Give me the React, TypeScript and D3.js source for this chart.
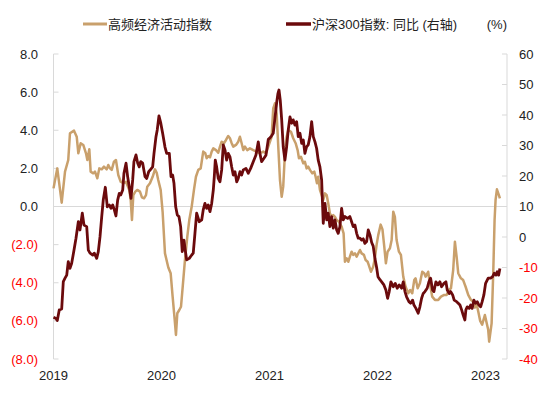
import React from "react";
import * as d3 from "d3";

// months since Jan 2019
const tanMonths = [0,0.42,0.91,1.28,1.64,1.83,2.28,2.58,2.76,3.02,3.31,3.61,3.76,3.98,4.13,4.42,4.61,4.87,5.09,5.36,5.61,5.91,6.09,6.28,6.47,6.72,6.94,7.2,7.47,7.76,8.06,8.2,8.42,8.58,8.72,8.87,9.09,9.31,9.61,9.83,10.06,10.28,10.42,10.72,11.02,11.28,11.47,11.64,11.91,12.13,12.39,12.76,13.02,13.24,13.47,13.61,13.76,13.98,14.17,14.36,14.61,14.87,15.09,15.36,15.61,15.83,16.09,16.36,16.47,16.64,16.87,17.02,17.2,17.39,17.58,17.76,18.06,18.31,18.5,18.69,18.94,19.17,19.42,19.61,19.8,19.98,20.28,20.53,20.72,20.91,21.09,21.28,21.53,21.83,22.2,22.58,22.94,23.31,23.61,23.87,24.24,24.42,24.61,24.8,24.98,25.17,25.36,25.53,25.72,25.91,26.09,26.39,26.64,26.91,27.13,27.28,27.5,27.76,27.94,28.13,28.31,28.5,28.76,28.98,29.13,29.28,29.42,29.61,29.8,29.98,30.17,30.36,30.53,30.72,30.91,31.09,31.28,31.47,31.72,32.02,32.24,32.39,32.58,32.76,32.94,33.13,33.31,33.5,33.69,33.87,34.06,34.24,34.5,34.69,34.91,35.06,35.28,35.53,35.72,35.91,36.09,36.36,36.56,36.76,36.94,37.13,37.39,37.58,37.76,37.94,38.13,38.39,38.61,38.87,39.13,39.42,39.64,39.87,40.09,40.24,40.47,40.72,40.98,41.2,41.36,41.64,41.83,42.09,42.39,42.76,43.06,43.42,43.69,43.94,44.17,44.42,44.61,44.8,44.98,45.28,45.53,45.8,46.09,46.39,46.64,46.83,47.02,47.2,47.42,47.64,47.94,48.31,48.42,48.69,48.87,49.02,49.13,49.28,49.5,49.61];
const tanValues = [0.95,2.0,0.2,1.83,2.44,3.84,3.98,3.66,2.79,3.32,3.23,2.79,2.44,3.0,1.83,1.74,1.83,1.48,2.0,1.95,2.09,1.95,2.18,2.0,1.92,2.35,2.44,1.65,1.3,1.22,1.3,1.13,0.87,0.34,-0.71,0.6,0.78,0.87,0.78,0.48,0.43,0.6,1.04,1.22,1.56,1.95,1.77,1.39,0.87,-0.3,-2.46,-3.2,-3.5,-4.73,-5.95,-6.74,-5.6,-5.43,-5.26,-4.2,-2.8,-1.58,-0.71,0,0.87,1.56,1.92,2.0,2.35,2.88,2.79,2.53,2.65,2.58,2.88,3.05,2.96,2.82,3.14,3.4,3.32,3.49,3.7,3.58,3.32,3.14,3.23,3.4,3.66,3.32,2.96,3.14,2.96,3.05,2.96,2.88,2.79,2.88,2.79,3.14,3.66,5.15,5.41,4.89,3.14,1.39,0.51,1.04,2.79,3.66,4.01,3.92,3.58,3.32,2.96,2.53,2.61,2.27,2.35,2.0,2.09,1.92,1.74,1.83,1.56,1.22,1.56,0.87,0.6,0.34,0.69,0.6,0.17,-0.36,-0.54,-0.45,-0.54,-0.71,-0.8,-1.06,-1.41,-2.9,-2.72,-2.9,-2.63,-2.37,-2.54,-2.46,-2.63,-2.46,-2.28,-2.46,-2.54,-2.81,-2.9,-3.1,-3.42,-3.16,-2.7,-2.0,-1.5,-0.95,-1.2,-2.11,-2.98,-2.37,-2.19,-1.76,-0.27,-0.54,-1.76,-2.37,-2.54,-3.68,-4.21,-4.55,-4.38,-4.55,-3.86,-3.77,-4.29,-4.03,-3.42,-3.5,-3.68,-3.42,-4.03,-4.73,-4.9,-4.9,-4.73,-4.64,-4.64,-4.38,-4.29,-3.33,-1.85,-2.63,-3.5,-3.77,-3.86,-4.21,-4.64,-4.9,-5.0,-5.3,-5.1,-5.5,-6.0,-6.2,-5.69,-6.47,-7.09,-6.13,-3.5,-0.71,0.34,0.9,0.6,0.43];

const csiMonths = [0,0.28,0.42,0.64,0.91,1.09,1.28,1.47,1.64,1.83,2.02,2.28,2.5,2.76,2.94,3.2,3.39,3.69,3.87,4.06,4.36,4.53,4.8,4.98,5.17,5.36,5.53,5.76,5.98,6.2,6.39,6.58,6.76,6.94,7.13,7.31,7.47,7.69,7.83,8.06,8.24,8.42,8.61,8.8,8.94,9.17,9.36,9.53,9.69,9.91,10.17,10.36,10.58,10.8,11.02,11.17,11.39,11.53,11.72,11.91,12.13,12.39,12.58,12.87,13.06,13.24,13.39,13.58,13.76,13.94,14.13,14.31,14.5,14.64,14.8,15.09,15.36,15.53,15.72,15.91,16.2,16.47,16.64,16.83,17.02,17.2,17.39,17.58,17.76,17.87,17.98,18.13,18.31,18.5,18.69,18.87,19.06,19.24,19.42,19.61,19.8,19.98,20.17,20.36,20.53,20.72,20.91,21.09,21.39,21.64,21.91,22.2,22.5,22.76,22.94,23.13,23.39,23.61,23.87,24.06,24.24,24.42,24.61,24.8,24.94,25.06,25.2,25.36,25.53,25.72,25.91,26.09,26.28,26.47,26.64,26.83,27.02,27.2,27.39,27.58,27.76,27.94,28.13,28.31,28.5,28.69,28.87,29.06,29.24,29.42,29.61,29.8,29.98,30.17,30.36,30.53,30.72,30.91,31.09,31.28,31.47,31.64,31.83,32.02,32.2,32.39,32.69,32.94,33.13,33.31,33.5,33.69,33.87,34.06,34.24,34.42,34.61,34.8,34.98,35.17,35.36,35.53,35.72,35.91,36.06,36.28,36.47,36.72,36.94,37.13,37.31,37.5,37.76,37.98,38.2,38.42,38.69,38.87,39.06,39.24,39.5,39.69,39.91,40.06,40.28,40.53,40.72,40.91,41.09,41.28,41.53,41.72,41.91,42.13,42.28,42.5,42.72,42.94,43.13,43.39,43.61,43.76,43.98,44.13,44.36,44.53,44.8,44.98,45.17,45.36,45.53,45.72,45.83,45.98,46.2,46.36,46.53,46.72,46.91,47.09,47.28,47.47,47.64,47.83,48.02,48.31,48.58,48.8,48.98,49.17,49.31,49.47,49.61];
const csiValues = [-26.3,-26.7,-27.4,-23.9,-23.6,-14.6,-13.5,-12.5,-8.1,-10.3,-8.6,-4.3,-0.4,5.0,2.3,7.8,3.9,3.4,-4.3,-5.3,-5.9,-5.3,-7.0,-4.8,0.1,6.7,12.1,16.3,9.9,10.5,9.4,10.5,8.9,6.9,12.1,14.3,13.8,15.4,20.9,24.2,19.8,16.5,12.7,18.7,24.7,26.9,24.2,23.0,24.7,24.2,19.8,19.2,21.4,22.2,23.0,27.4,32.9,35.1,39.7,37.5,34.0,29.5,27.4,27.4,19.8,20.3,17.6,9.9,7.2,6.7,3.4,-4.8,-1.0,-4.3,-7.5,-7.0,-5.9,-5.3,1.2,7.8,5.0,5.6,8.9,11.0,9.4,10.5,8.3,11.0,15.4,19.8,25.2,23.0,19.2,18.1,22.0,30.2,28.5,25.2,27.4,26.3,23.0,20.3,21.4,18.1,19.2,21.4,20.3,22.0,22.5,20.9,22.5,24.7,26.9,31.2,27.4,24.7,25.8,26.8,32,32.5,33.2,34,39,44,47,48.2,44.9,38.4,29.6,25.2,29.6,35.1,39.4,37.3,38.4,36.7,37.8,32.9,34.0,30.7,31.8,27.4,29.6,30.2,32.9,37.8,32.9,31.2,29.1,25.2,23.0,18.7,4.5,11.0,5.6,7.8,3.4,6.7,2.9,5.6,2.3,1.2,3.4,9.4,5.6,6.7,6.1,6.7,5.0,3.4,3.9,1.2,-0.4,-0.4,-1.0,-0.6,-2.1,-1.5,2.3,0.7,-1.8,-3.0,-7.0,-10,-13,-14,-14.7,-15.7,-17.4,-20.1,-17.9,-14.7,-16.3,-15.2,-16.8,-15.7,-16.8,-14.7,-17.9,-19.6,-21.2,-21.7,-20.7,-22.3,-23.4,-25.0,-22.9,-20.1,-18.5,-17.9,-16.8,-14.7,-13.5,-17.4,-17.9,-14.7,-15.7,-14.7,-16.3,-15.2,-14.7,-17.4,-18.5,-17.9,-19.0,-20.7,-21.2,-21.7,-22.3,-23.9,-25.6,-27.2,-23.9,-22.9,-23.4,-22.3,-23.4,-20.7,-21.7,-21.2,-22.3,-22.9,-21.2,-19.0,-15.2,-13.5,-13.5,-13.0,-11.9,-12.5,-11.4,-12.5,-10.3];

const leftTicks = [8, 6, 4, 2, 0, -2, -4, -6, -8];
const rightTicks = [60, 50, 40, 30, 20, 10, 0, -10, -20, -30, -40];
const yearLabels = ["2019", "2020", "2021", "2022", "2023"];
const legendLabels = ["高频经济活动指数", "沪深300指数: 同比 (右轴)"];

const TAN = "#C9A06C";
const DARK = "#6B0A0C";
const AXIS = "#D9D9D9";
const FONT = "'Liberation Sans', Arial, 'Noto Sans CJK SC', sans-serif";

export default function App() {
  const W = 550, H = 396;
  const x = d3.scaleLinear().domain([0, 50.4]).range([53.5, 507]);
  const yL = d3.scaleLinear().domain([-8, 8]).range([359, 54]);
  const yR = d3.scaleLinear().domain([-40, 60]).range([359, 54]);

  const tanData = tanMonths.map((m, i) => [m, tanValues[i]] as [number, number]);
  const csiData = csiMonths.map((m, i) => [m, csiValues[i]] as [number, number]);

  const tanLine = d3.line<[number, number]>().x(d => x(d[0])).y(d => yL(d[1]));
  const csiLine = d3.line<[number, number]>().x(d => x(d[0])).y(d => yR(d[1]));

  const fmtL = (v: number) => (v < 0 ? `(${Math.abs(v).toFixed(1)})` : v.toFixed(1));

  return (
    <svg width={W} height={H} style={{ position: "absolute", left: 0, top: 0, background: "#fff" }} fontFamily={FONT}>
      {/* zero line */}
      <line x1={x(0)} x2={x(50.4)} y1={yL(0)} y2={yL(0)} stroke={AXIS} strokeWidth={1} />
      {/* left axis */}
      <line x1={x(0)} x2={x(0)} y1={yL(8)} y2={yL(-8)} stroke={AXIS} strokeWidth={1} />
      {leftTicks.map(t => (
        <g key={"l" + t}>
          <line x1={x(0)} x2={x(0) + 5} y1={yL(t)} y2={yL(t)} stroke={AXIS} />
          <text x={38} y={yL(t)} dy="0.35em" textAnchor="end" fontSize={13} fill={t < 0 ? "#FF0000" : "#222"}>{fmtL(t)}</text>
        </g>
      ))}
      {/* right axis */}
      <line x1={x(50.4)} x2={x(50.4)} y1={yR(60)} y2={yR(-40)} stroke={AXIS} strokeWidth={1} />
      {rightTicks.map(t => (
        <g key={"r" + t}>
          <line x1={x(50.4) - 5} x2={x(50.4)} y1={yR(t)} y2={yR(t)} stroke={AXIS} />
          <text x={519} y={yR(t)} dy="0.35em" textAnchor="start" fontSize={13} fill={t < 0 ? "#FF0000" : "#222"}>{t}</text>
        </g>
      ))}
      {/* x labels */}
      {yearLabels.map((lab, i) => (
        <text key={lab} x={x(i * 12)} y={380} textAnchor="middle" fontSize={13} fill="#222">{lab}</text>
      ))}
      {/* series */}
      <path d={tanLine(tanData) || ""} fill="none" stroke={TAN} strokeWidth={2.5} strokeLinejoin="round" />
      <path d={csiLine(csiData) || ""} fill="none" stroke={DARK} strokeWidth={2.8} strokeLinejoin="round" />
      {/* legend */}
      <line x1={83} x2={107} y1={24} y2={24} stroke={TAN} strokeWidth={3} />
      <text x={108} y={28.5} fontSize={13} fill="#222">{legendLabels[0]}</text>
      <line x1={286} x2={311} y1={24} y2={24} stroke={DARK} strokeWidth={3.5} />
      <text x={312} y={28.5} fontSize={13} fill="#222">{legendLabels[1]}</text>
      <text x={507} y={28.5} textAnchor="end" fontSize={13} fill="#222">(%)</text>
    </svg>
  );
}
